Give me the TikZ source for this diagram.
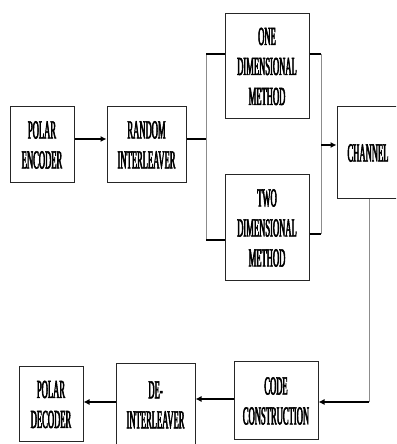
\documentclass[tikz,border=0pt]{standalone}
\usepackage{fontspec}
\newfontfamily\condfont[FakeStretch=0.33,FakeBold=2]{Liberation Serif}
\usetikzlibrary{arrows.meta,calc}
\tikzset{
  blk/.style={draw=black!85, line width=1pt, inner sep=0pt, align=center,
    font=\condfont\fontsize{26}{30}\selectfont},
  conn/.style={draw=black, line width=1.1pt},
  arr/.style={conn, -{Latex[length=6pt,width=6pt]}},
  gline/.style={draw=black!45, line width=1pt}
}
\begin{document}
\begin{tikzpicture}[x=1pt,y=1pt]
\useasboundingbox (0,0) rectangle (396,444);
\clip (0,0) rectangle (396,444);
\node[blk, minimum width=64pt, minimum height=76pt] (enc) at (42,299) {POLAR\\ENCODER};
\node[blk, minimum width=79pt, minimum height=76pt] (ri) at (146.5,299) {RANDOM\\INTERLEAVER};
\node[blk, minimum width=84pt, minimum height=105pt] (one) at (267,377.5) {ONE\\DIMENSIONAL\\METHOD};
\node[blk, minimum width=84pt, minimum height=106pt] (two) at (267,216) {TWO\\DIMENSIONAL\\METHOD};
\node[blk, minimum width=62pt, minimum height=92pt] (ch) at (368,291) {CHANNEL};
\node[blk, minimum width=84pt, minimum height=78pt] (cc) at (276,43) {CODE\\CONSTRUCTION};
\node[blk, minimum width=79pt, minimum height=82pt] (di) at (155.5,39) {DE-\\INTERLEAVER};
\node[blk, minimum width=64pt, minimum height=75pt] (pd) at (51,39.5) {POLAR\\DECODER};
\coordinate (jl) at (206,305);
\coordinate (jr) at (321,299);
\coordinate (jc) at (369,42);
% forward path
\draw[arr] ([yshift=6pt]enc.east) -- ([yshift=6pt]ri.west);
\draw[conn] ([yshift=6pt]ri.east) -- (jl);
\draw[gline] (jl |- 0,390) -- (jl |- 0,204);
\draw[conn] (jl |- 0,390) -- (one.west |- 0,390);
\draw[conn] (jl |- 0,204) -- (two.west |- 0,204);
\draw[conn] (one.east |- 0,390) -- (jr |- 0,390);
\draw[conn] (two.east |- 0,210) -- (jr |- 0,210);
\draw[gline] (jr |- 0,390) -- (jr |- 0,210);
\draw[arr] (jr) -- (ch.west |- jr);
% return path
\draw[gline] (ch.south -| jc) -- (jc);
\draw[arr] (jc) -- (cc.east |- jc);
\draw[arr] ([yshift=2pt]cc.west) -- ([yshift=6pt]di.east);
\draw[arr] ([yshift=3pt]di.west) -- ([yshift=2.5pt]pd.east);
\end{tikzpicture}
\end{document}
